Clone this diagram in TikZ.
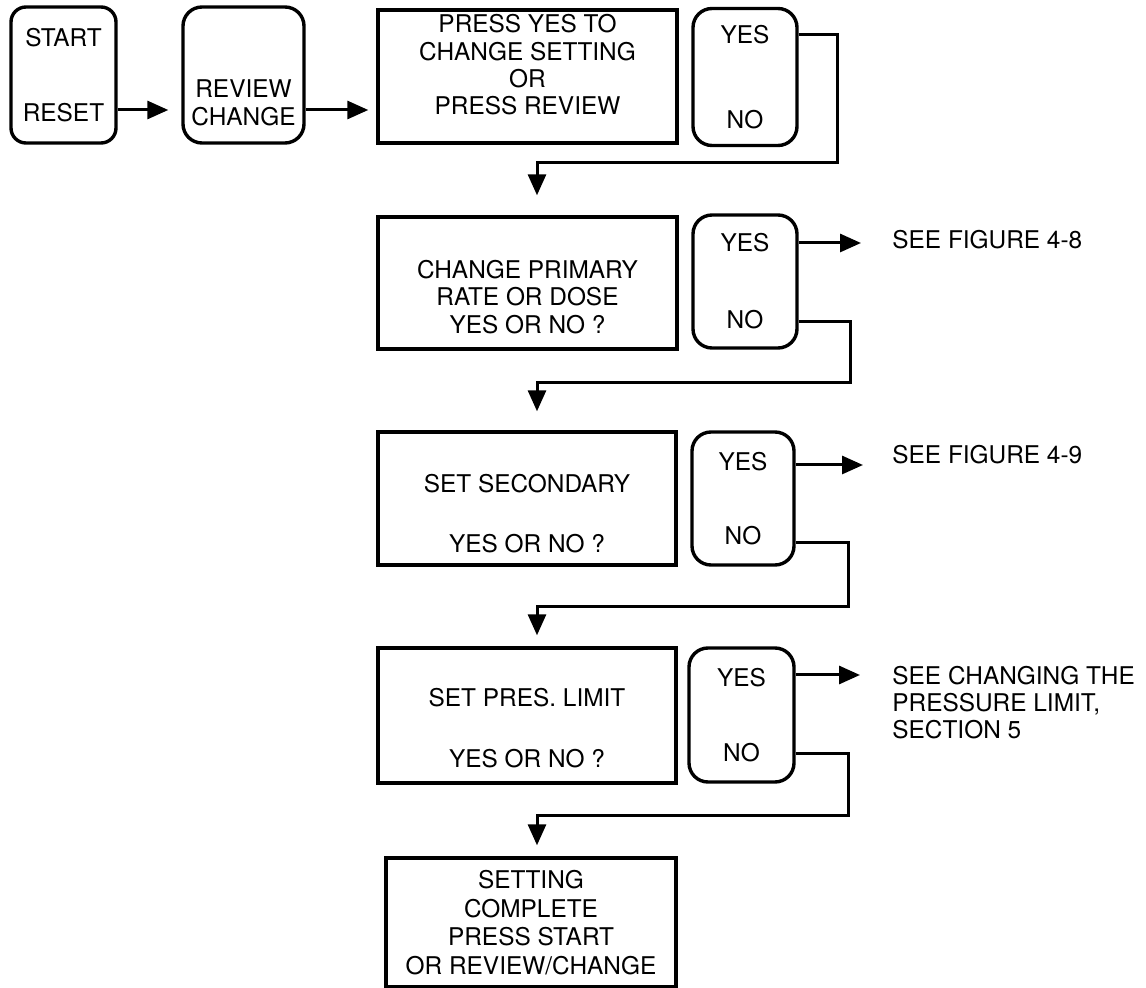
\documentclass[tikz,border=0pt]{standalone}
\usepackage{fontspec}
\setmainfont{TeX Gyre Heros}
\usetikzlibrary{arrows.meta,positioning,calc}
\tikzset{
  >={Triangle[length=10.5pt,width=9pt]},
  every node/.style={font=\fontsize{12.2}{13.7}\selectfont,text=black,inner sep=0pt,align=center},
  panel/.style={draw,line width=1.7pt},
  keypad/.style={panel,rounded corners=9.5pt},
  flow/.style={->,line width=1.5pt},
  ref/.style={align=left,anchor=west}
}

\begin{document}
\begin{tikzpicture}[x=0.5pt,y=-0.5pt]
  \useasboundingbox (0,0) rectangle (1146,988);

  % top row: keys and first prompt
  \node[keypad,rounded corners=7.5pt,minimum width=52.5pt,minimum height=68pt] (startkey) at (63.5,75) {START\\[24pt]RESET};
  \node[keypad,minimum width=60.5pt,minimum height=68pt] (reviewkey) at (243.5,75) {};
  \node (reviewtxt) at (243.5,103) {REVIEW\\CHANGE};
  \node[panel,minimum width=149.5pt,minimum height=66.5pt] (press) at (527.5,76.5) {};
  \node (presstxt) at (527.5,65) {PRESS YES TO\\CHANGE SETTING\\OR\\PRESS REVIEW};
  \node[keypad,minimum width=52pt,minimum height=68.5pt] (yn1) at (745,77) {YES\\[28.8pt]NO};

  % prompts
  \node[panel,minimum width=149.5pt,minimum height=66pt] (prim) at (527.5,283) {};
  \node (primtxt) at (527.5,297) {CHANGE PRIMARY\\RATE OR DOSE\\YES OR NO ?};
  \node[keypad,minimum width=52pt,minimum height=66.5pt] (yn2) at (745,281.5) {YES\\[24.8pt]NO};

  \node[panel,minimum width=149pt,minimum height=66.5pt] (sec) at (527,498.5) {};
  \node (sectxt) at (527,514) {SET SECONDARY\\[16.3pt]YES OR NO ?};
  \node[keypad,minimum width=51pt,minimum height=66.5pt] (yn3) at (743,498.5) {YES\\[23.3pt]NO};

  \node[panel,minimum width=149pt,minimum height=67.5pt] (pres) at (527,715.5) {};
  \node (prestxt) at (527,728) {SET PRES. LIMIT\\[16.8pt]YES OR NO ?};
  \node[keypad,minimum width=52.5pt,minimum height=67pt] (yn4) at (741.5,715) {YES\\[23.8pt]NO};

  \node[panel,minimum width=145pt,minimum height=64.5pt] (fin) at (531,922.5) {SETTING\\[0.6pt]COMPLETE\\[0.6pt]PRESS START\\[0.6pt]OR REVIEW/CHANGE};

  % references
  \node[ref] (fig8) at (892,240) {SEE FIGURE 4-8};
  \node[ref] (fig9) at (892,455) {SEE FIGURE 4-9};
  \node[ref] (limsec) at (892,703) {SEE CHANGING THE\\[-0.2pt]PRESSURE LIMIT,\\[-0.2pt]SECTION 5};

  % connectors
  \draw[flow,shorten >=6.5pt] ([yshift=-17.5pt]startkey.east) -- ([yshift=-17.5pt]reviewkey.west);
  \draw[flow,shorten >=4pt] ([yshift=-17.5pt]reviewkey.east) -- ([yshift=-17.5pt]reviewkey.east -| press.west);
  \draw[flow,shorten >=10pt] ([yshift=21pt]yn1.east) -| (837,163) -| ([xshift=4.75pt]prim.north);

  \draw[flow,shorten >=15.5pt] ([yshift=19.25pt]yn2.east) -- ([yshift=19.25pt]yn2.east -| fig8.west);
  \draw[flow,shorten >=9.5pt] ([yshift=-20.25pt]yn2.east) -| (850,383) -| ([xshift=5pt]sec.north);

  \draw[flow,shorten >=14.5pt] ([yshift=16.75pt]yn3.east) -- ([yshift=16.75pt]yn3.east -| fig9.west);
  \draw[flow,shorten >=5.5pt] ([yshift=-22.25pt]yn3.east) -| (848,607) -| ([xshift=5pt]pres.north);

  \draw[flow,shorten >=16pt] ([yshift=20pt]yn4.east) -- ([yshift=20pt]yn4.east -| limsec.west);
  \draw[flow,shorten >=5.5pt] ([yshift=-19pt]yn4.east) -| (848,815) -| ([xshift=3pt]fin.north);
\end{tikzpicture}
\end{document}
